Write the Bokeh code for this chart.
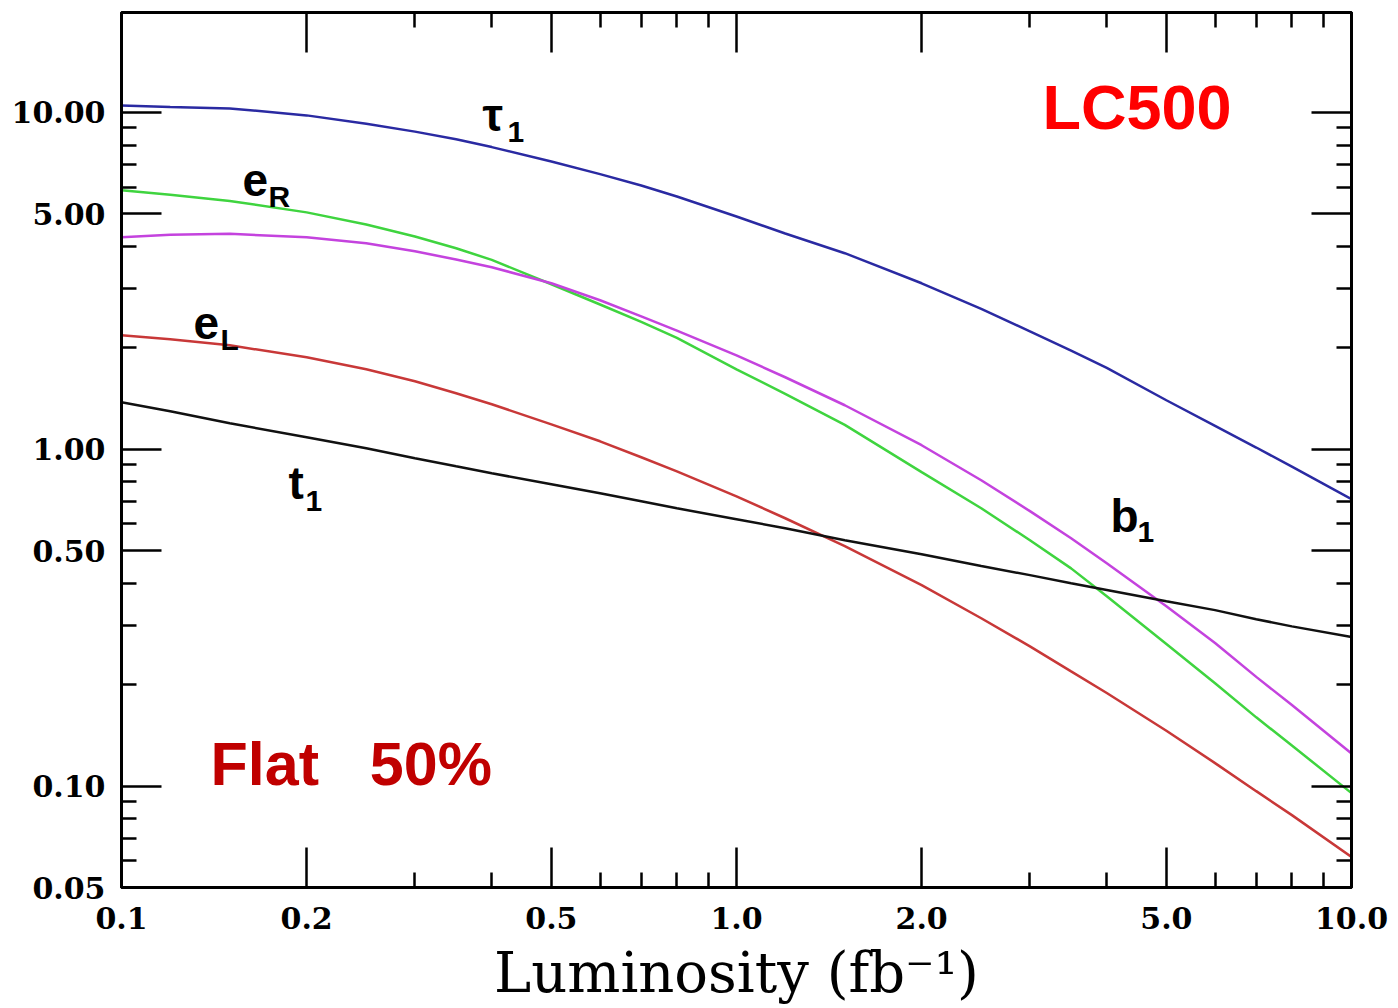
from bokeh.plotting import figure
from bokeh.models import LogAxis, FixedTicker, PrintfTickFormatter, CustomJSTickFormatter, Label
from bokeh.embed import file_html
from bokeh.resources import INLINE

lum = [0.1, 0.12, 0.15, 0.2, 0.25, 0.3, 0.35, 0.4, 0.5, 0.6, 0.7, 0.8, 1.0,
       1.2, 1.5, 2.0, 2.5, 3.0, 3.5, 4.0, 5.0, 6.0, 7.0, 8.0, 10.0]

tau1 = [10.49, 10.38, 10.28, 9.80, 9.25, 8.77, 8.32, 7.89, 7.15, 6.56, 6.07, 5.63, 4.91,
        4.37, 3.82, 3.11, 2.61, 2.24, 1.963, 1.744, 1.398, 1.174, 1.012, 0.888, 0.711]
eR = [5.87, 5.70, 5.46, 5.05, 4.65, 4.28, 3.95, 3.65, 3.09, 2.69, 2.39, 2.14, 1.727,
      1.461, 1.181, 0.855, 0.668, 0.537, 0.443, 0.366, 0.264, 0.202, 0.160, 0.132, 0.0953]
b1 = [4.26, 4.33, 4.36, 4.26, 4.09, 3.87, 3.66, 3.47, 3.11, 2.77, 2.48, 2.25, 1.90,
      1.636, 1.351, 1.028, 0.809, 0.655, 0.544, 0.459, 0.342, 0.266, 0.211, 0.174, 0.125]
eL = [2.18, 2.12, 2.035, 1.875, 1.727, 1.592, 1.466, 1.360, 1.186, 1.056, 0.947, 0.860, 0.725,
      0.624, 0.516, 0.395, 0.315, 0.260, 0.219, 0.189, 0.146, 0.117, 0.0966, 0.0820, 0.0616]
t1 = [1.379, 1.297, 1.194, 1.085, 1.007, 0.940, 0.890, 0.849, 0.787, 0.740, 0.701, 0.668, 0.620,
      0.583, 0.537, 0.488, 0.450, 0.423, 0.400, 0.382, 0.354, 0.333, 0.313, 0.298, 0.277]

x_major = [0.1, 0.2, 0.5, 1.0, 2.0, 5.0, 10.0]
x_minor = [0.3, 0.4, 0.6, 0.7, 0.8, 0.9, 3, 4, 6, 7, 8, 9]
y_major = [0.05, 0.1, 0.5, 1.0, 5.0, 10.0]
y_minor = [0.06, 0.07, 0.08, 0.09, 0.2, 0.3, 0.4, 0.6, 0.7, 0.8, 0.9, 2, 3, 4, 6, 7, 8, 9]

x_title = "Luminosity (fb⁻¹)"

TICK_FONT = "DejaVu Serif"
LABEL_FONT = "Liberation Sans"

p = figure(width=1398, height=1008, x_axis_type="log", y_axis_type="log",
           x_range=(0.1, 10), y_range=(0.05, 19.8),
           output_backend="svg", toolbar_location=None,
           min_border_left=121, min_border_right=47,
           min_border_top=12, min_border_bottom=121)
p.xgrid.visible = False
p.ygrid.visible = False
p.outline_line_color = "black"
p.outline_line_width = 3
p.background_fill_color = "white"
p.border_fill_color = "white"


def style_axis(ax, major, minor, labels=True, fmt="%.1f", standoff=10):
    ax.ticker = FixedTicker(ticks=major, minor_ticks=minor)
    ax.axis_line_color = "black"
    ax.axis_line_width = 3
    ax.major_tick_in = 40
    ax.major_tick_out = 0
    ax.minor_tick_in = 15
    ax.minor_tick_out = 0
    ax.major_tick_line_width = 2.5
    ax.minor_tick_line_width = 2.5
    ax.major_tick_line_color = "black"
    ax.minor_tick_line_color = "black"
    ax.major_label_standoff = standoff
    if labels:
        ax.formatter = PrintfTickFormatter(format=fmt)
        ax.major_label_text_font = TICK_FONT
        ax.major_label_text_font_size = "30px"
        ax.major_label_text_font_style = "bold"
        ax.major_label_text_color = "black"
    else:
        ax.formatter = CustomJSTickFormatter(code="return ''")
        ax.major_label_text_font_size = "1px"
        ax.major_label_standoff = 0


style_axis(p.xaxis[0], x_major, x_minor, True, "%.1f", 19)
style_axis(p.yaxis[0], y_major, y_minor, True, "%.2f", 16)

xa = p.xaxis[0]
xa.axis_label = x_title
xa.axis_label_text_font = TICK_FONT
xa.axis_label_text_font_size = "56px"
xa.axis_label_text_font_style = "normal"
xa.axis_label_text_color = "black"
xa.axis_label_standoff = 8

top = LogAxis()
style_axis(top, x_major, x_minor, labels=False)
p.add_layout(top, "above")
right = LogAxis()
style_axis(right, y_major, y_minor, labels=False)
p.add_layout(right, "right")

p.line(lum, tau1, line_color="#2a2aa2", line_width=2.5)
p.line(lum, eR, line_color="#3fd43f", line_width=2.5)
p.line(lum, b1, line_color="#c443de", line_width=2.5)
p.line(lum, eL, line_color="#c83838", line_width=2.5)
p.line(lum, t1, line_color="#111111", line_width=2.5)


def lab(x, y, text, size, color="black", style="bold"):
    # y is the wanted baseline height above the frame bottom; raise by the
    # renderer's baseline offset
    p.add_layout(Label(x=x, y=y + 0.38 * size, x_units="screen", y_units="screen",
                       text=text, text_font=LABEL_FONT, text_font_size=f"{size}px",
                       text_color=color, text_font_style=style,
                       text_baseline="alphabetic", text_align="left"))


# curve labels (symbol + subscript)
lab(361, 755, "τ", 46)
lab(386, 744, "1", 30)
lab(121, 690, "e", 46)
lab(147, 680, "R", 30)
lab(72, 547, "e", 46)
lab(99, 537, "L", 30)
lab(167, 387, "t", 46)
lab(184, 375, "1", 30)
lab(989, 354, "b", 46)
lab(1016, 344, "1", 30)

lab(921, 757, "LC500", 63, color="#ff0000")
lab(89, 100, "Flat\u00a0\u00a0\u00a050%", 61, color="#c00000")

open("out.html", "w").write(file_html(p, INLINE))
